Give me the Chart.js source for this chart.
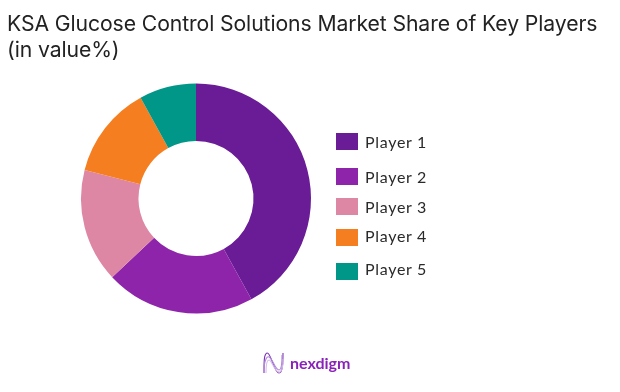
<!DOCTYPE html>
<html lang="en">
<head>
<meta charset="utf-8">
<title>KSA Glucose Control Solutions Market Share</title>
<script src="https://cdn.jsdelivr.net/npm/chart.js@4/dist/chart.umd.min.js"></script>
<style>
  html, body { margin: 0; padding: 0; background: #fff; }
  #stage { position: relative; width: 620px; height: 392px; overflow: hidden; }
  #chart { position: absolute; left: 0; top: 0; }
  #title { position: absolute; left: 7px; top: 10px; margin: 0; font: 400 21.2px/26px Inter, sans-serif; color: #222; letter-spacing: -0.1px; white-space: nowrap; }
  #legend { list-style: none; margin: 0; padding: 0; }
  #legend li { position: absolute; left: 336px; height: 18px; display: flex; align-items: center; font: 400 16px Lato, sans-serif; letter-spacing: 0.7px; color: #2a2a2a; white-space: nowrap; }
  #legend li:nth-child(1) { top: 132px; }
  #legend li:nth-child(2) { top: 167px; }
  #legend li:nth-child(3) { top: 197px; }
  #legend li:nth-child(4) { top: 228px; }
  #legend li:nth-child(5) { top: 262px; }
  #legend li:nth-child(4) span { transform: translateY(-2px); }
  #legend li:nth-child(5) span { transform: translateY(-3px); }
  #legend i { display: block; width: 22px; height: 17px; margin-right: 7px; }
  #logo { position: absolute; left: 262px; top: 351px; display: flex; align-items: center; }
  #logo span { margin-left: 5px; font: 700 16px/20px Lato, sans-serif; color: #8a22b8; }
</style>
</head>
<body>
<div id="stage">
  <canvas id="chart" width="620" height="392"></canvas>
  <h1 id="title">KSA Glucose Control Solutions Market Share of Key Players<br>(in value%)</h1>
  <ul id="legend"></ul>
  <div id="logo">
    <svg width="23" height="24" viewBox="0 0 23 24" fill="none" stroke-width="1.1">
      <path d="M2 22C2 10 2 3 5 2C9 1 12 22 17 22C21 22 21 10 21 2" stroke="#7b2fb5"/>
      <path d="M2 16C3 8 5 5 7 6C11 8 13 19 17 19C20 19 20 10 20 4" stroke="#b08ad6"/>
      <path d="M4 22C4 14 5 9 7 9C10 9 13 23 18 21C20 20 21 14 21 8" stroke="#d4bdea"/>
    </svg>
    <span>nexdigm</span>
  </div>
</div>
<script>
const categories = ['Player 1', 'Player 2', 'Player 3', 'Player 4', 'Player 5'];
const shares = [42, 21, 16, 13, 8];
const sliceColors = ['#6a1b96', '#8e24aa', '#de87a5', '#f57f20', '#009688'];

document.addEventListener('DOMContentLoaded', () => {
  initLegend();
  initChart();
});

/* Legend — spacing is uneven in the original, so it lives in the css */
function initLegend() {
  const legend = document.getElementById('legend');
  categories.forEach((name, i) => {
    const item = document.createElement('li');
    const swatch = document.createElement('i');
    const label = document.createElement('span');
    swatch.style.background = sliceColors[i];
    label.textContent = name;
    item.appendChild(swatch);
    item.appendChild(label);
    legend.appendChild(item);
  });
}

function initChart() {
  new Chart(document.getElementById('chart'), {
    type: 'doughnut',
    data: {
      labels: categories,
      datasets: [{
        data: shares,
        backgroundColor: sliceColors,
        borderWidth: 0,
      }],
    },
    options: {
      responsive: false,
      animation: false,
      cutout: '50%',
      layout: { padding: { left: 81, right: 309, top: 83.5, bottom: 78.5 } },
      plugins: { legend: { display: false }, tooltip: { enabled: false } },
    },
  });
}
</script>
</body>
</html>
